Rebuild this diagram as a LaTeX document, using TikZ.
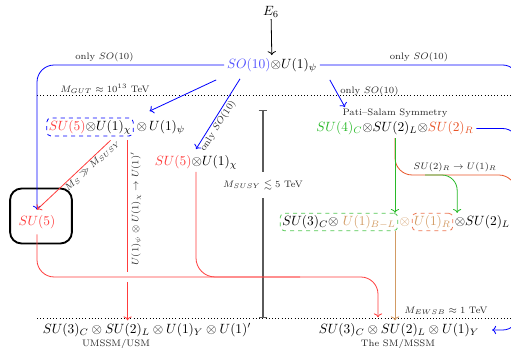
\documentclass[tikz,border=0pt]{standalone}
\usepackage{amsmath,amssymb}
\usepackage{xcolor}
\usetikzlibrary{positioning,arrows.meta,calc}
\definecolor{sotext}{RGB}{80,80,255}
\definecolor{sured}{RGB}{255,60,60}
\definecolor{psgreen}{RGB}{40,185,40}
\definecolor{rorange}{RGB}{232,85,40}
\definecolor{bltan}{RGB}{210,155,100}
\definecolor{scalegray}{RGB}{90,90,90}

\begin{document}
\begin{tikzpicture}[
    x=0.0262cm, y=-0.0262cm,
    every node/.style={inner sep=1pt},
    grp/.style={inner sep=2pt},
    tag/.style={font=\scriptsize, text=black!85, inner sep=1pt},
    dashbox/.style={draw, dashed, semithick, rounded corners=3pt, inner sep=1.5pt},
    gutbox/.style={draw, line width=1.4pt, rounded corners=0.3cm, minimum width=1.62cm, minimum height=1.44cm},
    bluearr/.style={->, blue, semithick},
    redarr/.style={->, sured, semithick},
    redline/.style={sured, semithick},
    greenarr/.style={->, psgreen, semithick},
    tanarr/.style={->, bltan, semithick},
    orangeline/.style={rorange, semithick},
    scalebar/.style={scalegray, thick},
    scaleline/.style={dotted, thin}
]
\useasboundingbox (0,0) rectangle (511,348);
\clip (0,0) rectangle (511,348);

\node (e6) at (271,12) {$E_6$};
\node[grp] (so10) at (272,65) {$\textcolor{sotext}{SO(10)}{\otimes}U(1)_\psi$};
\node[tag] (psname) at (395,113) {Pati--Salam Symmetry};
\node[grp, below=0pt of psname] (ps) {$\textcolor{psgreen}{SU(4)_C}{\otimes}SU(2)_L{\otimes}\textcolor{rorange}{SU(2)_R}$};
\node[dashbox, draw=blue] (su5chi) at (90,127) {$\textcolor{sured}{SU(5)}{\otimes}U(1)_\chi$};
\node[grp, right=0pt of su5chi] (su5psi) {$\otimes\, U(1)_\psi$};
\node[grp] (su5chib) at (196,162) {$\textcolor{sured}{SU(5)}{\otimes}U(1)_\chi$};
\node[gutbox] (su5box) at (41,216) {};
\node[text=sured, inner sep=4pt] (su5) at (37,222) {$SU(5)$};
\node[dashbox, draw=psgreen!80] (blbox) at (339,222) {$SU(3)_C{\otimes}\ \textcolor{bltan}{U(1)_{B-L}}$};
\node[right=0pt of blbox, text=bltan] (blx) {$\otimes$};
\node[dashbox, draw=rorange!80, right=0pt of blx] (urbox) {$\textcolor{bltan}{U(1)_R}$};
\node[right=0pt of urbox] (sul) {${\otimes}SU(2)_L$};
\node[grp] (umssm) at (147,330) {$SU(3)_C\otimes SU(2)_L\otimes U(1)_Y\otimes U(1)'$};
\node[tag] (umssmname) at (116,344) {UMSSM/USM};
\node[grp] (sm) at (399,330) {$SU(3)_C\otimes SU(2)_L\otimes U(1)_Y$};
\node[tag] (smname) at (398,344) {The SM/MSSM};

\coordinate (gutL) at (37,95);
\coordinate (gutR) at (511,95);
\coordinate (ewL) at (37,318);
\coordinate (ewR) at (511,318);
\node[tag] (mgut) at (105,89) {$M_{GUT}\approx 10^{13}$ TeV};
\node[tag] (mewsb) at (446,311) {$M_{EWSB}\approx 1$ TeV};
\draw[scaleline] (gutL) -- (gutR);
\draw[scaleline] (ewL) -- (ewR);

\coordinate (susytop) at (263,110);
\node[tag, inner ysep=6pt] (msusy) at (263,185) {$M_{SUSY}\lesssim 5$ TeV};
\coordinate (susybot) at (263,318);
\draw[scalebar, {Bar[width=6.5pt]}-] (susytop) -- (msusy);
\draw[scalebar, -{Bar[width=6.5pt]}] (msusy) -- (susybot);

\coordinate (rail) at (518,200);
\coordinate (orail) at (516,300);
\coordinate (redjoin) at (300,277);
\coordinate (u1bend) at (455,175);
\coordinate (u1split) at (425,175);
\coordinate (chiA) at ($(su5chi.south east)+(-6,4)$);

\draw[->, semithick] (e6) -- (so10);
\draw[bluearr, rounded corners=0.45cm] (so10.west) -| node[tag, pos=0.32, above=1pt] {only $SO(10)$} (su5.north);
\draw[bluearr] ($(so10.south west)+(-8,5)$) -- ($(su5psi.north west)+(16,-6)$);
\draw[bluearr] ($(so10.south)+(-32,4)$) -- node[tag, pos=0.62, sloped, below] {only $SO(10)$} ($(su5chib.north)+(0,-3)$);
\draw[bluearr] ($(so10.south east)+(10,5)$) -- node[tag, pos=0.4, right=2pt] {only $SO(10)$} ($(psname.north west)+(4,0)$);
\draw[bluearr, rounded corners=0.4cm] (so10.east) -| node[tag, pos=0.25, above=1pt] {only $SO(10)$} (rail) |- ($(sm.east)+(10,0)$);
\draw[blue, semithick, rounded corners=0.4cm] (ps.east) -| (rail);

\draw[orangeline, rounded corners=0.45cm] (ps.south) |- (u1bend) node[tag, above=1pt] {$SU(2)_R\to U(1)_R$} -| (orail);
\draw[greenarr] (ps.south) -- (ps.south |- blbox.north);
\draw[greenarr, rounded corners=0.4cm] (u1split) -| ($(urbox.north east)+(4,0)$);
\draw[tanarr] (ps.south |- blbox.south) -- (ps.south |- sm.north);

\draw[redarr] ($(su5chi.south east)+(-23,4)$) -- node[tag, pos=0.3, sloped, below] {$M_S\gg M_{SUSY}$} (su5.north);
\draw[redline, shorten >=0.13cm] (chiA) -- node[tag, midway, anchor=north, rotate=90, inner sep=2pt] {$U(1)_\psi\otimes U(1)_\chi\to U(1)'$} (chiA |- redjoin);
\draw[redarr, shorten <=0.13cm] (chiA |- redjoin) -- (chiA |- umssm.north);
\draw[redarr, rounded corners=0.45cm] (su5.south) |- (redjoin) -| ($(sm.north)+(-21,-3)$);
\draw[redline, rounded corners=0.5cm] (su5chib.south) |- (redjoin);
\end{tikzpicture}
\end{document}
